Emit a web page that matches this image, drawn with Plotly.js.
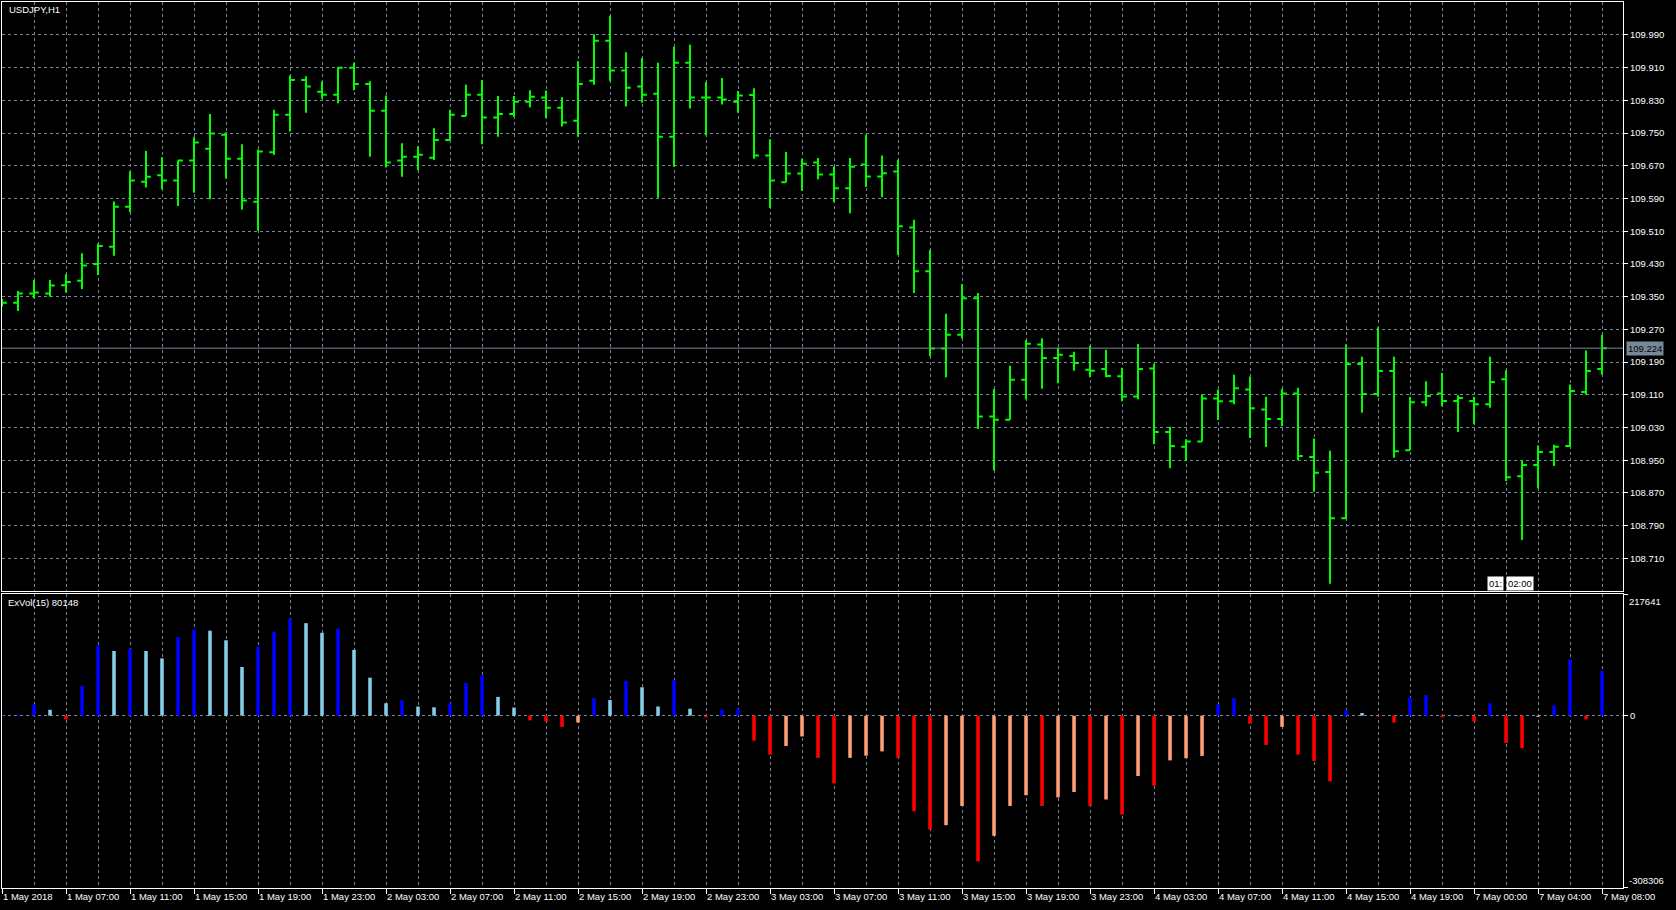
<!DOCTYPE html>
<html>
<head>
<meta charset="utf-8">
<script src="https://cdn.plot.ly/plotly-3.0.1.min.js"></script>
<style>
html,body{margin:0;padding:0;background:#000;overflow:hidden;}
#chart{width:1676px;height:910px;}
</style>
</head>
<body>
<div id="chart"></div>
<script>
// ---- DATA (USDJPY H1, from 1 May 2018 03:00 to 7 May 2018 08:00) ----
const symbolLabel = "USDJPY,H1";
const indicatorLabel = "ExVol(15) 80148";
const currentPrice = 109.224;
const timerParts = ["01:", "02:00"];

const open = [
109.335,109.335,109.358,109.358,109.378,109.389,109.430,109.472,109.570,109.631,
109.647,109.634,109.683,109.712,109.746,109.687,109.582,109.703,109.795,109.880,
109.851,109.844,109.910,109.870,109.805,109.683,109.692,109.690,109.733,109.792,
109.844,109.788,109.797,109.827,109.837,109.812,109.780,109.878,109.976,109.903,
109.864,109.846,109.741,109.922,109.837,109.837,109.827,109.843,109.695,109.630,
109.651,109.678,109.649,109.615,109.673,109.644,109.656,109.519,109.412,109.223,
109.257,109.346,109.057,109.049,109.147,109.233,109.200,109.205,109.171,109.173,
109.155,109.106,109.174,109.019,108.983,108.996,109.101,109.094,109.123,109.074,
109.051,109.113,108.958,108.921,108.808,109.185,109.112,109.168,108.974,109.092,
109.113,109.095,109.095,109.087,109.148,108.911,108.938,108.970,108.985,109.117,
109.173];
const high = [
109.345,109.364,109.391,109.391,109.405,109.456,109.480,109.583,109.657,109.706,
109.691,109.683,109.740,109.797,109.752,109.723,109.710,109.807,109.891,109.889,
109.877,109.911,109.922,109.877,109.842,109.725,109.718,109.762,109.807,109.868,
109.880,109.841,109.841,109.855,109.854,109.838,109.926,109.992,110.037,109.948,
109.934,109.922,109.961,109.966,109.875,109.885,109.853,109.860,109.735,109.704,
109.687,109.689,109.669,109.689,109.746,109.695,109.685,109.538,109.465,109.308,
109.381,109.359,109.124,109.181,109.244,109.248,109.225,109.215,109.230,109.220,
109.176,109.234,109.186,109.032,109.001,109.111,109.123,109.159,109.154,109.105,
109.125,109.127,109.003,108.973,109.233,109.203,109.275,109.203,109.105,109.143,
109.164,109.109,109.105,109.203,109.170,108.949,108.986,108.988,109.135,109.218,
109.257];
const low = [
109.325,109.315,109.346,109.350,109.360,109.369,109.403,109.450,109.557,109.617,
109.613,109.572,109.604,109.588,109.639,109.563,109.511,109.697,109.754,109.800,
109.834,109.823,109.855,109.692,109.666,109.643,109.660,109.684,109.733,109.792,
109.723,109.741,109.790,109.813,109.787,109.766,109.741,109.868,109.877,109.815,
109.824,109.592,109.668,109.810,109.745,109.820,109.800,109.687,109.567,109.630,
109.609,109.637,109.581,109.554,109.618,109.593,109.452,109.359,109.204,109.153,
109.248,109.026,108.925,109.049,109.099,109.125,109.138,109.169,109.153,109.153,
109.094,109.099,108.989,108.930,108.948,108.996,109.048,109.087,109.004,108.982,
109.033,108.950,108.873,108.648,108.807,109.066,109.105,108.956,108.974,109.082,
109.082,109.019,109.038,109.078,108.899,108.755,108.881,108.936,108.985,109.110,
109.159];
const close = [
109.335,109.358,109.360,109.377,109.386,109.426,109.474,109.570,109.634,109.643,
109.634,109.683,109.727,109.749,109.687,109.585,109.705,109.795,109.880,109.864,
109.844,109.910,109.870,109.805,109.678,109.692,109.697,109.733,109.795,109.844,
109.788,109.797,109.827,109.839,109.812,109.776,109.870,109.976,109.903,109.861,
109.844,109.741,109.922,109.837,109.837,109.832,109.842,109.695,109.634,109.651,
109.675,109.649,109.615,109.668,109.644,109.652,109.522,109.412,109.223,109.257,
109.346,109.057,109.049,109.147,109.235,109.200,109.208,109.188,109.169,109.156,
109.106,109.173,109.019,108.985,108.996,109.101,109.094,109.126,109.077,109.051,
109.113,108.960,108.919,108.808,109.185,109.112,109.168,108.972,109.092,109.107,
109.095,109.102,109.087,109.141,108.908,108.938,108.970,108.983,109.119,109.168,
109.224];
const exVol = [
1500,2000,20200,10600,-6600,52800,125400,115700,119700,115700,
102500,140600,154000,152100,134900,87100,123400,150300,173200,165500,
148300,156000,117700,68000,22200,27900,16400,15000,22200,58500,
71900,33600,14500,-8400,-10400,-20000,-12300,31700,28000,62300,
50800,16400,64200,12500,-3000,11000,12500,-44700,-69600,-54400,
-37200,-75500,-121300,-75500,-71600,-63900,-75500,-171000,-203600,-195900,
-161500,-260800,-215000,-161500,-142400,-161500,-146200,-136500,-161500,-150000,
-176800,-107900,-125100,-80000,-76000,-72000,20200,31700,-14300,-52400,
-20000,-69600,-81200,-117500,10600,4800,-1500,-12300,33000,37000,
-3000,-1000,-10400,22200,-48700,-58100,-2000,18500,100500,-6600,
80148];

const timeLabels = ["1 May 2018","1 May 07:00","1 May 11:00","1 May 15:00","1 May 19:00","1 May 23:00",
"2 May 03:00","2 May 07:00","2 May 11:00","2 May 15:00","2 May 19:00","2 May 23:00",
"3 May 03:00","3 May 07:00","3 May 11:00","3 May 15:00","3 May 19:00","3 May 23:00",
"4 May 03:00","4 May 07:00","4 May 11:00","4 May 15:00","4 May 19:00",
"7 May 00:00","7 May 04:00","7 May 08:00"];
const labelEvery = 4; // one time label every 4 bars
const priceTicks = [109.990,109.910,109.830,109.750,109.670,109.590,109.510,109.430,109.350,109.270,109.190,109.110,109.030,108.950,108.870,108.790,108.710];
const volMax = 217641, volMin = -308306;

// ---- BUILD ----
const idx = open.map((_, i) => i);
const labelIdx = timeLabels.map((_, k) => k * labelEvery);

const volColors = exVol.map((v, i) => {
  const prev = i > 0 ? exVol[i - 1] : 0;
  if (v >= 0) return v >= prev ? '#0000ff' : '#87ceeb';
  return v <= prev ? '#ff0000' : '#ffa07a';
});

const GRID = '#778899';
const DASH = '3px,3px';
const FONT = 'Liberation Sans, Arial, sans-serif';
const f = (c) => ({family: FONT, size: 9.5, color: c || '#ffffff'});

const traces = [
  {
    type: 'ohlc', x: idx, open: open, high: high, low: low, close: close,
    xaxis: 'x', yaxis: 'y',
    increasing: {line: {color: '#00ff00', width: 2}},
    decreasing: {line: {color: '#00ff00', width: 2}},
    tickwidth: 0.3, hoverinfo: 'skip'
  },
  {
    type: 'bar', x: idx, y: exVol, xaxis: 'x2', yaxis: 'y2',
    width: 0.22, marker: {color: volColors, line: {width: 0}}, hoverinfo: 'skip'
  }
];

const xRange = [0, 101.31];
const priceRange = [108.630, 110.0707];
const volRange = [volMin, volMax];

const layout = {
  width: 1676, height: 910,
  paper_bgcolor: '#000', plot_bgcolor: '#000',
  margin: {l: 2, r: 53, t: 2, b: 22},
  showlegend: false,
  font: f(),
  xaxis: {
    domain: [0, 1], range: xRange, anchor: 'y',
    rangeslider: {visible: false},
    tickmode: 'linear', tick0: 0, dtick: 2,
    showticklabels: false, ticks: '',
    showgrid: true, gridcolor: GRID, griddash: DASH, gridwidth: 1,
    showline: true, mirror: true, linecolor: '#ffffff', linewidth: 1,
    zeroline: false, fixedrange: true
  },
  yaxis: {
    domain: [0.3352, 1], range: priceRange, anchor: 'x', side: 'right',
    tickmode: 'array', tickvals: priceTicks, ticktext: priceTicks.map(v => v.toFixed(3)),
    ticks: 'outside', ticklen: 4, tickcolor: '#ffffff',
    showgrid: true, gridcolor: GRID, griddash: DASH, gridwidth: 1,
    showline: true, mirror: true, linecolor: '#ffffff', linewidth: 1,
    zeroline: false, fixedrange: true, tickfont: f()
  },
  xaxis2: {
    domain: [0, 1], range: xRange, anchor: 'y2',
    tickmode: 'array', tickvals: labelIdx, ticktext: timeLabels,
    ticklabelposition: 'outside right',
    ticks: 'outside', ticklen: 5, tickcolor: '#ffffff',
    showgrid: true, gridcolor: GRID, griddash: DASH, gridwidth: 1,
    minor: {tickmode: 'linear', tick0: 0, dtick: 2, showgrid: true, gridcolor: GRID, griddash: DASH, gridwidth: 1, ticks: ''},
    showline: true, mirror: true, linecolor: '#ffffff', linewidth: 1,
    zeroline: false, fixedrange: true, tickfont: f()
  },
  yaxis2: {
    domain: [0, 0.3318], range: volRange, anchor: 'x2', side: 'right',
    tickmode: 'array', tickvals: [volMax, 0, volMin], ticktext: ['', '0', ''],
    ticks: 'outside', ticklen: 4, tickcolor: '#ffffff',
    showgrid: true, gridcolor: GRID, griddash: DASH, gridwidth: 1,
    showline: true, mirror: true, linecolor: '#ffffff', linewidth: 1,
    zeroline: false, fixedrange: true, tickfont: f()
  },
  shapes: [
    {type: 'line', xref: 'x domain', yref: 'y', x0: 0, x1: 1, y0: currentPrice, y1: currentPrice,
     line: {color: GRID, width: 1}}
  ],
  annotations: [
    {xref: 'paper', yref: 'paper', x: 0.0031, y: 0.9915, xanchor: 'left', yanchor: 'middle',
     text: symbolLabel, showarrow: false, font: f()},
    {xref: 'paper', yref: 'paper', x: 0.0025, y: 0.3217, xanchor: 'left', yanchor: 'middle',
     text: indicatorLabel, showarrow: false, font: f()},
    {xref: 'x domain', yref: 'y2', x: 1.0025, y: volMax, xanchor: 'left', yanchor: 'top',
     text: String(volMax), showarrow: false, font: f()},
    {xref: 'x domain', yref: 'y2', x: 1.0025, y: volMin, xanchor: 'left', yanchor: 'bottom',
     text: String(volMin), showarrow: false, font: f()},
    {xref: 'x domain', yref: 'y', x: 1.002, y: currentPrice, xanchor: 'left', yanchor: 'middle',
     text: currentPrice.toFixed(3), showarrow: false, bgcolor: GRID, borderpad: 1, font: f('#000000')},
    {xref: 'x', yref: 'y', x: 93.9, y: 108.649, xanchor: 'right', yanchor: 'middle',
     text: timerParts[0], showarrow: false, bgcolor: '#ffffff', borderpad: 1, font: f('#000000')},
    {xref: 'x', yref: 'y', x: 94.0, y: 108.649, xanchor: 'left', yanchor: 'middle',
     text: timerParts[1], showarrow: false, bgcolor: '#ffffff', borderpad: 1, font: f('#000000')}
  ]
};

Plotly.newPlot('chart', traces, layout, {displayModeBar: false, staticPlot: true});
</script>
</body>
</html>
